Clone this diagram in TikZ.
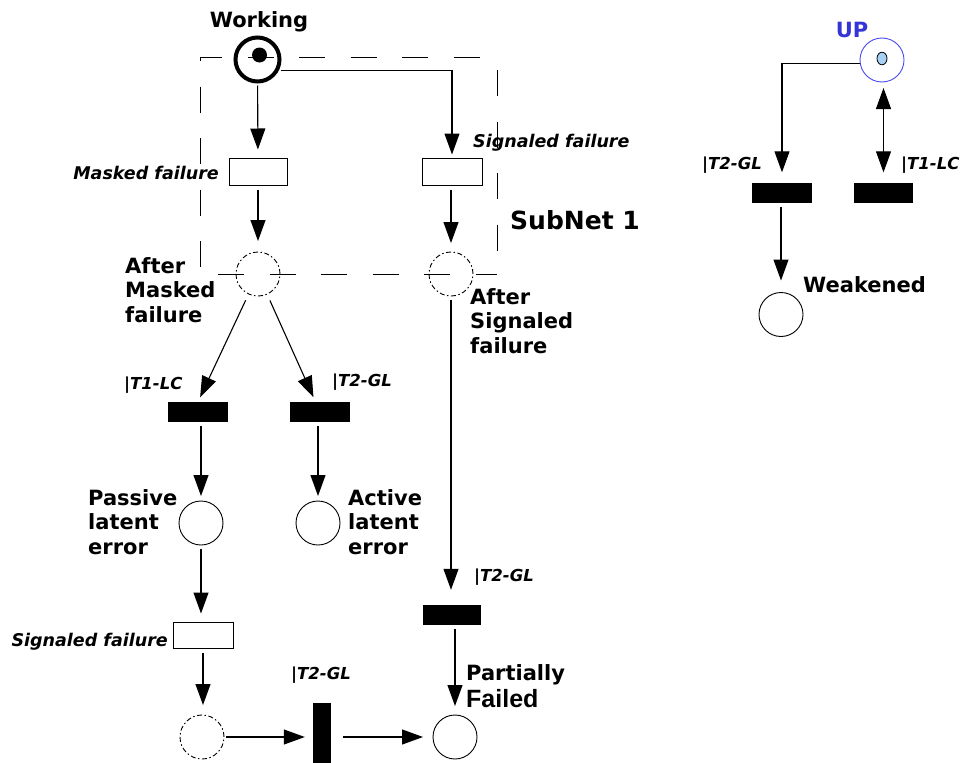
\documentclass[tikz,border=0pt]{standalone}
\usepackage{fontspec}
\setmainfont{DejaVu Sans}
\newfontfamily\failfont{Liberation Sans}
\usetikzlibrary{arrows.meta,calc}
\definecolor{upblue}{HTML}{3434D8}
\definecolor{upring}{HTML}{4A4AF0}
\definecolor{tokblue}{HTML}{A8D0F4}
\begin{document}
\begin{tikzpicture}[x=1pt,y=-1pt,
  place/.style={circle,draw,line width=0.9pt,minimum size=44pt,inner sep=0pt,outer sep=0pt},
  ghost/.style={place,dash pattern=on 5pt off 2.5pt on 1.5pt off 2.5pt},
  trans/.style={draw,line width=1pt,minimum width=58pt,minimum height=27pt,inner sep=0pt,fill=white},
  bar/.style={fill=black,minimum width=60pt,minimum height=20pt,inner sep=0pt},
  arc/.style={line width=1.1pt,-{Triangle[length=21pt,width=15pt]},shorten <=4pt},
  tlabel/.style={font=\fontsize{16.5}{20}\selectfont\bfseries\itshape,inner sep=0pt},
  flabel/.style={font=\fontsize{17.5}{20}\selectfont\bfseries\itshape,inner sep=0pt},
  plabel/.style={font=\fontsize{21}{24.5}\selectfont\bfseries,inner sep=0pt,align=left},
  subnet/.style={line width=1pt,dash pattern=on 26pt off 25.5pt}]
\useasboundingbox (0,0) rectangle (962,763);

% ---------- SubNet 1 frame ----------
\coordinate (fa) at (200,57);
\coordinate (fb) at (497,57);
\coordinate (fc) at (497,274);
\coordinate (fd) at (200,274);
\draw[subnet,dash phase=4pt] (fa) -- (fb);
\draw[subnet,dash phase=22pt] (fa) -- (fd);
\draw[subnet,dash phase=33.5pt] (fd) -- (fc);
\draw[subnet,dash phase=38.5pt] (fb) -- (fc);
\node[font=\fontsize{25}{30}\selectfont\bfseries,anchor=west,inner sep=0pt] (subnetlbl) at (510,220) {SubNet 1};

% ---------- places ----------
\node[place,line width=4pt] (work) at (257.5,59.5) {};
\fill (259.5,55) circle (7.5pt);
\node[ghost] (am) at (258,274) {};
\node[ghost] (as) at (451,274) {};
\node[place] (pl) at (201,523) {};
\node[place] (al) at (318,523) {};
\node[ghost] (ps) at (202,737) {};
\node[place] (pf) at (455,737) {};
\node[place,draw=upring] (up) at (882,60) {};
\filldraw[fill=tokblue,draw=black,line width=0.8pt] (882,58.5) ellipse (5pt and 6.3pt);
\node[place] (wk) at (781,314.5) {};

% ---------- transitions ----------
\node[trans] (mf) at (258,171.5) {};
\node[trans,minimum width=60pt] (sf) at (452,171.5) {};
\node[trans,minimum width=60pt,minimum height=26pt] (sf2) at (203,635) {};
\node[bar] (b1) at (198,412) {};
\node[bar] (b2) at (319.5,412) {};
\node[bar,minimum width=58pt] (b3) at (452,615) {};
\node[bar,minimum width=18pt,minimum height=60pt] (b4) at (322,733) {};
\node[bar] (b5) at (782,192.5) {};
\node[bar,minimum width=59pt] (b6) at (883.5,192.5) {};

% ---------- arcs ----------
\draw[arc,shorten >=8pt] (work) -- (mf);
\draw[arc,shorten >=3pt] (work.-30) -| (sf.north);
\draw[arc,shorten >=11pt] (mf) -- (am);
\draw[arc,shorten >=9pt] (sf.south -| as) -- (as);
\draw[arc,shorten <=7pt,shorten >=5pt] (am) -- (b1.north);
\draw[arc,shorten <=7pt,shorten >=5pt] (am) -- ($(b2.north)+(-4,0)$);
\draw[arc,shorten >=5pt] (b1.south -| pl) -- (pl);
\draw[arc,shorten >=5pt] (b2.south -| al) -- (al);
\draw[arc,shorten >=8pt] (pl) -- (pl |- sf2.north);
\draw[arc,shorten >=10pt] (sf2) -- (sf2 |- ps.north);
\draw[arc,shorten <=2pt,shorten >=8pt] (ps.east) -- (ps.east -| b4.west);
\draw[arc,shorten <=12pt,shorten >=10pt] (b4.east |- pf) -- (pf.west);
\draw[arc,shorten >=15pt] (as) -- (as |- b3.north);
\draw[arc,shorten >=9pt] (b3.south -| pf) -- (pf);
\draw[arc,shorten <=0pt,shorten >=10pt] (up.190) -| (b5.north);
\draw[line width=1.1pt,{Triangle[length=21pt,width=15pt]}-{Triangle[length=21pt,width=15pt]},shorten <=6pt,shorten >=10pt] (up.south -| b6) -- (b6.north);
\draw[arc,shorten >=12pt] (b5.south -| wk) -- (wk);

% ---------- labels ----------
\node[font=\fontsize{21}{24}\selectfont\bfseries,inner sep=0pt] (worklbl) at (259,22) {Working};
\node[font=\fontsize{21}{24}\selectfont\bfseries,inner sep=0pt,text=upblue] (uplbl) at (852,30) {UP};
\node[plabel,anchor=west] (wklbl) at (803,285) {Weakened};
\node[plabel,anchor=west] (amlbl) at (125,290) {After\\Masked\\failure};
\node[plabel,anchor=west] (aslbl) at (470,321) {After\\Signaled\\failure};
\node[plabel,anchor=west] (pllbl) at (88,522) {Passive\\latent\\error};
\node[plabel,anchor=west] (allbl) at (348,522) {Active\\latent\\error};
\node[plabel,anchor=west] (pflbl) at (466,675) {Partially};
\node[font=\failfont\bfseries\fontsize{25}{28}\selectfont,anchor=west,inner sep=0pt] (pflbl2) at (466,699) {Failed};

\node[flabel,anchor=east] (mflbl) at (219,173) {Masked failure};
\node[flabel,anchor=west] (sflbl) at (473,143) {Signaled failure};
\node[flabel,anchor=east] (sf2lbl) at (168,642) {Signaled failure};
\node[tlabel,anchor=west] (b1lbl) at (124,385) {|T1-LC};
\node[tlabel,anchor=west] (b2lbl) at (332,382) {|T2-GL};
\node[tlabel,anchor=west] (b3lbl) at (474,577) {|T2-GL};
\node[tlabel,anchor=west] (b4lbl) at (291,675) {|T2-GL};
\node[tlabel,anchor=west] (b5lbl) at (702,165) {|T2-GL};
\node[tlabel,anchor=west] (b6lbl) at (901,165) {|T1-LC};
\end{tikzpicture}
\end{document}
